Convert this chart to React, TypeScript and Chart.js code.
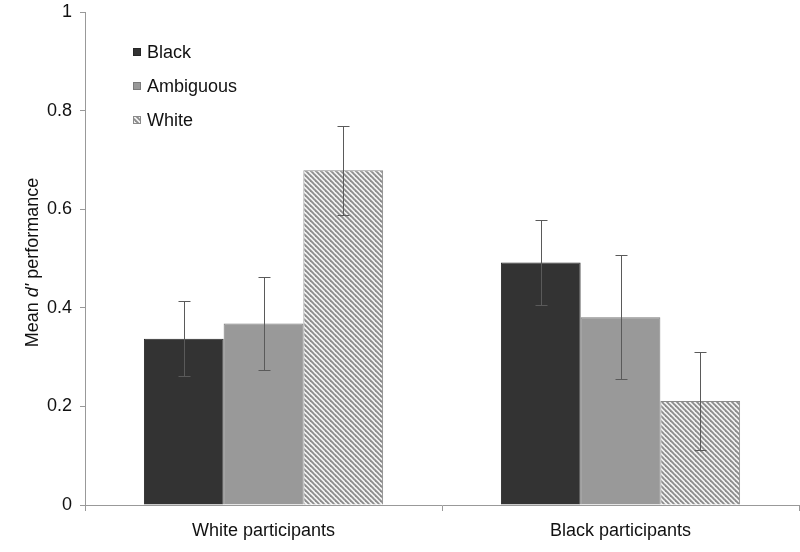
import React, { useEffect, useRef } from "react";
import { Chart, registerables } from "chart.js";

Chart.register(...registerables);

const categories = ["White participants", "Black participants"];
const seriesNames = ["Black", "Ambiguous", "White"];
const blackValues = [0.337, 0.492];
const ambiguousValues = [0.368, 0.381];
const whiteValues = [0.679, 0.211];
const blackErrors = [0.076, 0.087];
const ambiguousErrors = [0.095, 0.126];
const whiteErrors = [0.09, 0.1];
const yTickLabels = ["0", "0.2", "0.4", "0.6", "0.8", "1"];

const FONT = "'Liberation Sans', Arial, sans-serif";

function makeHatch(): CanvasPattern | string {
  const s = 5;
  const c = document.createElement("canvas");
  c.width = s;
  c.height = s;
  const g = c.getContext("2d");
  if (!g) return "#bbbbbb";
  g.fillStyle = "#f4f4f4";
  g.fillRect(0, 0, s, s);
  g.strokeStyle = "#8c8c8c";
  g.lineWidth = 1.9;
  for (const k of [-s, 0, s]) {
    g.beginPath();
    g.moveTo(k - 1, -1);
    g.lineTo(k + s + 1, s + 1);
    g.stroke();
  }
  const p = g.createPattern(c, "repeat");
  return p || "#bbbbbb";
}

export default function App() {
  const ref = useRef<HTMLCanvasElement | null>(null);

  useEffect(() => {
    document.body.style.margin = "0";
    const canvas = ref.current;
    if (!canvas) return;
    const hatch = makeHatch();
    const errors = [blackErrors, ambiguousErrors, whiteErrors];

    const errorBars = {
      id: "errorBars",
      afterDatasetsDraw(chart: any) {
        const ctx = chart.ctx;
        const ys = chart.scales.y;
        ctx.save();
        ctx.strokeStyle = "#5a5a5a";
        ctx.lineWidth = 1;
        chart.data.datasets.forEach((ds: any, i: number) => {
          const meta = chart.getDatasetMeta(i);
          meta.data.forEach((bar: any, j: number) => {
            const v = ds.data[j];
            const e = errors[i][j];
            const x = Math.round(bar.x) + 0.5;
            const yt = Math.round(ys.getPixelForValue(v + e)) + 0.5;
            const yb = Math.round(ys.getPixelForValue(v - e)) + 0.5;
            ctx.beginPath();
            ctx.moveTo(x, yt);
            ctx.lineTo(x, yb);
            ctx.moveTo(x - 6, yt);
            ctx.lineTo(x + 6, yt);
            ctx.moveTo(x - 6, yb);
            ctx.lineTo(x + 6, yb);
            ctx.stroke();
          });
        });
        ctx.restore();
      },
    };

    const legendAndTitle = {
      id: "legendAndTitle",
      afterDraw(chart: any) {
        const ctx = chart.ctx;
        const area = chart.chartArea;
        ctx.save();
        // legend
        chart.data.datasets.forEach((ds: any, i: number) => {
          const cy = area.top + 40 + i * 34;
          const sx = area.left + 48;
          ctx.fillStyle = ds.backgroundColor;
          ctx.fillRect(sx, cy - 4, 8, 8);
          ctx.strokeStyle = ds.borderColor;
          ctx.lineWidth = 1;
          ctx.strokeRect(sx + 0.5, cy - 3.5, 7, 7);
          ctx.fillStyle = "#111";
          ctx.font = `18px ${FONT}`;
          ctx.textBaseline = "middle";
          ctx.textAlign = "left";
          ctx.fillText(ds.label, sx + 14, cy + 1);
        });
        // y title with italic d'
        const parts = [
          { t: "Mean ", f: `18px ${FONT}` },
          { t: "d'", f: `italic 18px ${FONT}` },
          { t: " performance", f: `18px ${FONT}` },
        ];
        let total = 0;
        const widths = parts.map((p) => {
          ctx.font = p.f;
          const w = ctx.measureText(p.t).width;
          total += w;
          return w;
        });
        ctx.translate(33, (area.top + area.bottom) / 2 + 4);
        ctx.rotate(-Math.PI / 2);
        ctx.fillStyle = "#111";
        ctx.textBaseline = "middle";
        ctx.textAlign = "left";
        let x = -total / 2;
        parts.forEach((p, k) => {
          ctx.font = p.f;
          ctx.fillText(p.t, x, 0);
          x += widths[k];
        });
        ctx.restore();
      },
    };

    const chart = new Chart(canvas, {
      type: "bar",
      data: {
        labels: categories,
        datasets: [
          {
            label: seriesNames[0],
            data: blackValues,
            backgroundColor: "#333333",
            borderColor: "#262626",
            borderWidth: 1,
          },
          {
            label: seriesNames[1],
            data: ambiguousValues,
            backgroundColor: "#999999",
            borderColor: "#7a7a7a",
            borderWidth: 1,
          },
          {
            label: seriesNames[2],
            data: whiteValues,
            backgroundColor: hatch as any,
            borderColor: "#8a8a8a",
            borderWidth: 1,
          },
        ],
      },
      options: {
        animation: false,
        responsive: false,
        devicePixelRatio: 1,
        layout: { padding: { left: 0, top: 12, right: 1, bottom: 0 } },
        datasets: {
          bar: { categoryPercentage: 0.67, barPercentage: 1.0 },
        },
        plugins: {
          legend: { display: false },
          tooltip: { enabled: false },
          title: { display: false },
        },
        scales: {
          x: {
            grid: {
              display: true,
              drawOnChartArea: false,
              drawTicks: true,
              tickLength: 6,
              color: "#999999",
              offset: true,
            },
            border: { display: true, color: "#999999", width: 1 },
            ticks: {
              color: "#111",
              font: { family: FONT, size: 18 },
              padding: 9,
            },
            afterFit(scale: any) {
              scale.height = 47;
              scale.paddingLeft = 0;
              scale.paddingRight = 0;
            },
          },
          y: {
            min: 0,
            max: 1,
            grid: {
              display: true,
              drawOnChartArea: false,
              drawTicks: true,
              tickLength: 5,
              color: "#999999",
            },
            border: { display: true, color: "#999999", width: 1 },
            ticks: {
              stepSize: 0.2,
              color: "#111",
              font: { family: FONT, size: 18 },
              padding: 8,
              callback: (_v: any, i: number) => yTickLabels[i],
            },
            afterFit(scale: any) {
              scale.width = 85;
              scale.paddingTop = 0;
              scale.paddingBottom = 0;
            },
          },
        },
      },
      plugins: [errorBars, legendAndTitle],
    });
    return () => chart.destroy();
  }, []);

  return (
    <div style={{ width: 800, height: 552, background: "#fff" }}>
      <canvas ref={ref} width={800} height={552} />
    </div>
  );
}
